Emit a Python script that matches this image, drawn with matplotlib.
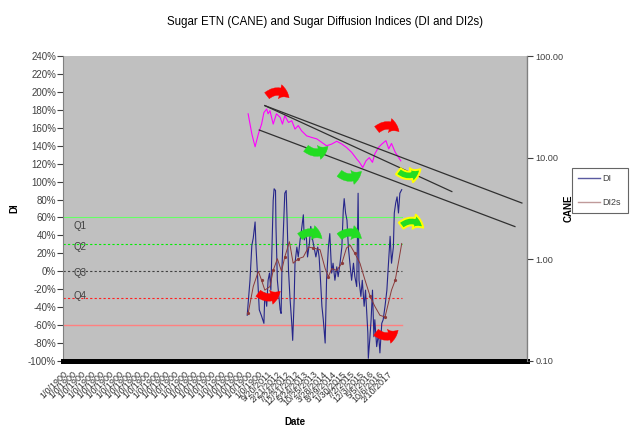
import matplotlib
matplotlib.use("Agg")
import matplotlib.pyplot as plt
from matplotlib.patches import FancyArrowPatch
from matplotlib.lines import Line2D
from matplotlib.ticker import FuncFormatter, FixedLocator

plt.rcParams['font.family'] = ['Liberation Sans', 'DejaVu Sans']

# ---------------- data ----------------
di_rows = [397, 403, 407, 410, 414, 416, 419, 423, 428, 433, 435, 439, 442, 445, 448,
           453, 455, 458, 459, 462, 464, 468, 470, 472, 475, 478, 481, 483, 486, 489,
           493, 495, 498, 500, 504, 507, 511, 514, 518, 520, 524, 527, 531, 534, 538,
           541, 545, 549, 552, 555, 558, 561, 565, 568, 572, 575, 579, 582, 586, 590,
           593, 597, 601, 604, 606, 609, 612, 615, 619, 622, 626, 629, 633, 636, 638,
           642, 645, 649, 652, 657, 658, 661, 664, 667, 670, 672, 676, 680, 683, 687,
           690, 694, 698, 701, 705, 708, 712, 714, 717, 720, 723, 726, 730]
di_vals = [-49, -10, 29, 37, 55, 27, -2, -43, -50, -58, -24, -39, -10, -2, -21,
           79, 92, 90, 50, -10, -21, -43, -47, 5, 46, 87, 90, 57, 1, -28,
           -58, -77, -35, 9, 27, 16, 35, 46, 63, 35, 42, 16, 31, 50, 35,
           27, 16, 27, 16, -10, -39, -54, -80, -10, 27, 42, -2, 9, -10, 5,
           -6, 9, 27, 68, 81, 65, 57, 27, 5, -10, 9, -6, -17, 87, -10,
           -28, -10, -39, -21, -69, -97, -77, -54, -21, -73, -54, -84, -69, -91, -58,
           -54, -39, -21, 5, 39, 9, 27, 65, 76, 83, 65, 87, 91]

di2s_rows = [399, 410, 421, 428, 435, 446, 453, 462, 471, 478, 488, 496, 507, 518, 529,
             539, 554, 565, 572, 579, 590, 601, 611, 619, 629, 640, 651, 662, 672, 683,
             694, 701, 708, 716, 724, 730]
di2s_vals = [-47, -17, 0, -10, -21, -17, 1, 14, 0, 16, 33, 9, 14, 16, 27,
             26, 24, 3, -6, 3, 1, 9, 26, 29, 20, 9, -10, -28, -39, -49,
             -51, -36, -21, -10, 13, 31]

cane_rows = [399, 407, 414, 421, 428, 433, 439, 442, 446, 453, 460, 468, 473, 478, 486,
             493, 500, 507, 514, 525, 536, 547, 558, 568, 579, 590, 601, 611, 622, 633,
             639, 646, 653, 660, 667, 672, 680, 687, 696, 702, 708, 716, 723, 728]
cane_vals = [27.0, 17.1, 12.8, 17.1, 21.4, 27.8, 30.1, 27.0, 29.0, 21.4, 27.0, 24.9, 21.4, 25.9, 22.2,
             23.1, 19.1, 20.7, 18.4, 16.4, 15.8, 15.3, 14.1, 13.1, 13.6, 14.5, 13.6, 12.6, 11.3, 9.7,
             9.0, 8.0, 9.3, 10.0, 9.0, 10.9, 12.6, 13.6, 14.7, 12.2, 13.8, 11.3, 10.1, 9.3]

# trend lines on CANE: (start row, end row) and (start value, end value)
trend_rows = [[435, 989], [435, 838], [423, 974]]
trend_vals = [[32.5, 3.58], [32.5, 4.64], [18.7, 2.1]]

# quadrant reference levels (DI)
q_levels = [0.60, 0.30, 0.0, -0.30, -0.60]
q_names = ['Q1', 'Q2', 'Q3', 'Q4']
q_label_vals = [0.51, 0.27, -0.02, -0.28]
ref_row_end = 730

tick_rows = list(range(0, 701, 20))
date_labels = ["9/20/2011", "2/21/2012", "7/24/2012", "12/21/2012", "5/24/2013",
               "10/25/2013", "3/28/2014", "8/29/2014", "1/30/2015", "7/2/2015",
               "12/3/2015", "5/5/2016", "10/6/2016", "2/10/2017"]
tick_labels = ["1/0/1900"] * (len(tick_rows) - len(date_labels)) + date_labels

# ---------------- figure ----------------
fig = plt.figure(figsize=(6.4, 4.38), dpi=100)
fig.patch.set_facecolor('white')
ax = fig.add_axes([63/640, 1-361/438, 464/640, 305/438])
ax.set_facecolor('#C0C0C0')
ax2 = ax.twinx()

ax.set_xlim(0, 1000)
ax.set_ylim(-1.0, 2.4)
ax2.set_ylim(0.1, 100)
ax2.set_yscale('log')

# reference lines
ref_styles = [('#66FF66', '-', 0.8), ('#00EE00', (0, (2, 2)), 0.8), ('#404040', (0, (2, 2)), 0.8),
              ('#FF2020', (0, (2, 2)), 0.8), ('#FF8080', '-', 1.0)]
for lev, (c, ls, lw) in zip(q_levels, ref_styles):
    ax.plot([0, ref_row_end], [lev, lev], color=c, ls=ls, lw=lw, zorder=2)
for name, v in zip(q_names, q_label_vals):
    ax.text(22, v, name, fontsize=7, color='#404040', va='center', ha='left', zorder=3)

# DI series
di_frac = [v / 100 for v in di_vals]
di2s_frac = [v / 100 for v in di2s_vals]
ax.plot(di_rows, di_frac, color='#26268A', lw=0.8, zorder=4)
ax.plot(di2s_rows, di2s_frac, color='#8B3A3A', lw=0.7, zorder=5,
        marker='o', markersize=1.3, markevery=3)

# CANE + trend lines
ax2.plot(cane_rows, cane_vals, color='#FF00FF', lw=0.8, zorder=4)
for r, v in zip(trend_rows, trend_vals):
    ax2.plot(r, v, color='#303030', lw=0.9, zorder=4)

# bottom black band
ax.axhline(-1.0, color='black', lw=3.6, clip_on=False, zorder=6)

# axes styling
ax.yaxis.set_major_locator(FixedLocator([i / 100 for i in range(-100, 241, 20)]))
ax.yaxis.set_major_formatter(FuncFormatter(lambda v, p: f"{round(v*100):d}%"))
ax.tick_params(axis='y', labelsize=7, colors='#404040', length=4, width=0.8, pad=1)
ax.set_xticks(tick_rows)
ax.set_xticklabels(tick_labels, rotation=45, ha='right', va='top',
                   rotation_mode='anchor', fontsize=6.5, color='#303030')
ax.tick_params(axis='x', length=0, pad=6)
for s in ['top', 'bottom']:
    ax.spines[s].set_visible(False)
    ax2.spines[s].set_visible(False)
ax.spines['left'].set_color('#808080')
ax2.spines['right'].set_color('#808080')
ax2.spines['left'].set_visible(False)

ax2.yaxis.set_major_locator(FixedLocator([0.1, 1, 10, 100]))
ax2.yaxis.set_minor_locator(FixedLocator([]))
ax2.yaxis.set_major_formatter(FuncFormatter(lambda v, p: f"{v:.2f}"))
ax2.tick_params(axis='y', labelsize=6.6, colors='#404040', length=4, width=0.8, pad=2)

ax.set_ylabel('DI', fontsize=7, fontweight='bold', labelpad=6)
ax2.set_ylabel('CANE', fontsize=7, fontweight='bold', labelpad=0)
ax.set_xlabel('Date', fontsize=7, fontweight='bold', labelpad=7)
fig.text(325/640, 1-22/438, 'Sugar ETN (CANE) and Sugar Diffusion Indices (DI and DI2s)',
         ha='center', va='center', fontsize=8.3)

# curved arrows (axes-fraction positions)
arrows = [
    (0.463, 0.872, 'over', '#FF0000', None),
    (0.700, 0.761, 'over', '#FF0000', None),
    (0.547, 0.695, 'under', '#22DD22', None),
    (0.619, 0.613, 'under', '#22DD22', None),
    (0.746, 0.620, 'under', '#22DD22', '#FFFF00'),
    (0.534, 0.410, 'over', '#22DD22', None),
    (0.619, 0.410, 'over', '#22DD22', None),
    (0.752, 0.446, 'over', '#22DD22', '#FFFF00'),
    (0.444, 0.220, 'under', '#FF0000', None),
    (0.698, 0.092, 'under', '#FF0000', None),
]
dx = 13 / 464
for cx, cy, kind, col, edge in arrows:
    if kind == 'over':
        p0, p1, rad = (cx - dx, cy - 0.008), (cx + dx, cy - 0.016), -0.55
    else:
        p0, p1, rad = (cx - dx, cy + 0.008), (cx + dx, cy + 0.016), 0.55
    arr = FancyArrowPatch(p0, p1, transform=ax2.transAxes,
                          connectionstyle=f"arc3,rad={rad}",
                          arrowstyle="simple,head_length=0.6,head_width=0.8,tail_width=0.42",
                          mutation_scale=13, facecolor=col,
                          edgecolor=edge if edge else col,
                          lw=1.4 if edge else 0.3, zorder=10)
    ax2.add_patch(arr)

# legend
handles = [Line2D([], [], color='#5A5AA0', lw=1), Line2D([], [], color='#C09A9A', lw=1)]
leg = fig.legend(handles, ['DI', 'DI2s'], loc='upper left',
                 bbox_to_anchor=(572/640, 1-168/438), fontsize=6.5, frameon=True,
                 fancybox=False, handlelength=2.4, borderpad=0.7, labelspacing=1.6,
                 handletextpad=0.3, borderaxespad=0)
leg.get_frame().set_edgecolor('#404040')
leg.get_frame().set_linewidth(0.8)
for t in leg.get_texts():
    t.set_color('#404040')

fig.savefig('out.png', dpi=100)
